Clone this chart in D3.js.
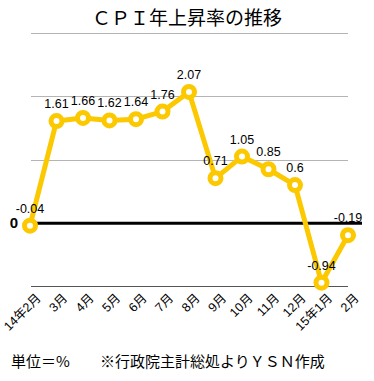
<!DOCTYPE html>
<html>
<head>
<meta charset="utf-8">
<script src="https://cdn.jsdelivr.net/npm/d3@7"></script>
<style>
  body { margin: 0; background: #fff; }
  text { font-family: "Liberation Sans", "Noto Sans CJK JP", sans-serif; }
</style>
</head>
<body>
<script>
var width = 374, height = 381;
var margins = { top: 33, left: 30, right: 26, bottom: 95 };

// data
var months = ['14年2月', '3月', '4月', '5月', '6月', '7月', '8月', '9月', '10月', '11月', '12月', '15年1月', '2月'];
var cpi = [-0.04, 1.61, 1.66, 1.62, 1.64, 1.76, 2.07, 0.71, 1.05, 0.85, 0.6, -0.94, -0.19];
var gridValues = [3, 2, 1];
var yDomain = [-1, 3];

var svg = d3.select('body')
  .append('svg')
  .attr('width', width)
  .attr('height', height);

var x = d3.scalePoint().domain(months).range([margins.left, width - margins.right]);
var y = d3.scaleLinear().domain(yDomain).range([height - margins.bottom + 0.5, margins.top]);

// title
svg.append('text')
  .attr('x', 187).attr('y', 25)
  .attr('text-anchor', 'middle')
  .style('font-family', '"Noto Sans CJK JP", sans-serif')
  .style('font-size', '19px')
  .text('ＣＰＩ年上昇率の推移');

// grid lines
svg.append('g').selectAll('line')
  .data(gridValues)
  .join('line')
  .attr('x1', margins.left + 1).attr('x2', width - margins.right)
  .attr('y1', function (d) { return Math.round(y(d)) + 0.5; })
  .attr('y2', function (d) { return Math.round(y(d)) + 0.5; })
  .attr('stroke', '#b4b4b4')
  .attr('stroke-width', 1);

// bottom axis line (-1)
svg.append('line')
  .attr('x1', margins.left + 1).attr('x2', width - margins.right)
  .attr('y1', Math.round(y(-1)) - 0.5).attr('y2', Math.round(y(-1)) - 0.5)
  .attr('stroke', '#555')
  .attr('stroke-width', 1);

// zero line
svg.append('line')
  .attr('x1', 27).attr('x2', 362)
  .attr('y1', y(0)).attr('y2', y(0))
  .attr('stroke', '#000')
  .attr('stroke-width', 3);

svg.append('text')
  .attr('x', 14).attr('y', y(0) + 5)
  .attr('text-anchor', 'middle')
  .style('font-size', '15px')
  .style('font-weight', 'bold')
  .text('0');

// x axis labels
var xAxis = d3.axisBottom(x).tickSize(0).tickPadding(0);
var xg = svg.append('g')
  .attr('transform', 'translate(0,' + (height - margins.bottom) + ')')
  .call(xAxis);
xg.select('.domain').remove();
xg.selectAll('text')
  .attr('dy', null)
  .attr('y', 0)
  .attr('text-anchor', 'end')
  .attr('transform', 'translate(11,13) rotate(-45)')
  .attr('fill', '#000')
  .style('font-family', '"Liberation Sans", "Noto Sans CJK JP", sans-serif')
  .style('font-size', '12.5px');

// line
var line = d3.line()
  .x(function (d, i) { return x(months[i]); })
  .y(function (d) { return y(d); });

svg.append('path')
  .datum(cpi)
  .attr('d', line)
  .attr('fill', 'none')
  .attr('stroke', '#fcc800')
  .attr('stroke-width', 5)
  .attr('stroke-linejoin', 'round');

svg.append('g').selectAll('circle')
  .data(cpi)
  .join('circle')
  .attr('cx', function (d, i) { return x(months[i]); })
  .attr('cy', function (d) { return y(d); })
  .attr('r', 5.5)
  .attr('fill', '#fff')
  .attr('stroke', '#fcc800')
  .attr('stroke-width', 5);

// value labels
svg.append('g').selectAll('text')
  .data(cpi)
  .join('text')
  .attr('x', function (d, i) { return x(months[i]); })
  .attr('y', function (d) { return y(d) - 13; })
  .attr('text-anchor', 'middle')
  .style('font-size', '12.5px')
  .text(function (d) { return d; });

// footer
svg.append('text')
  .attr('x', 11).attr('y', 367)
  .style('font-family', '"Noto Sans CJK JP", sans-serif')
  .style('font-size', '15px')
  .text('単位＝%');

svg.append('text')
  .attr('x', 100).attr('y', 367)
  .style('font-family', '"Noto Sans CJK JP", sans-serif')
  .style('font-size', '15px')
  .text('※行政院主計総処よりＹＳＮ作成');
</script>
</body>
</html>
